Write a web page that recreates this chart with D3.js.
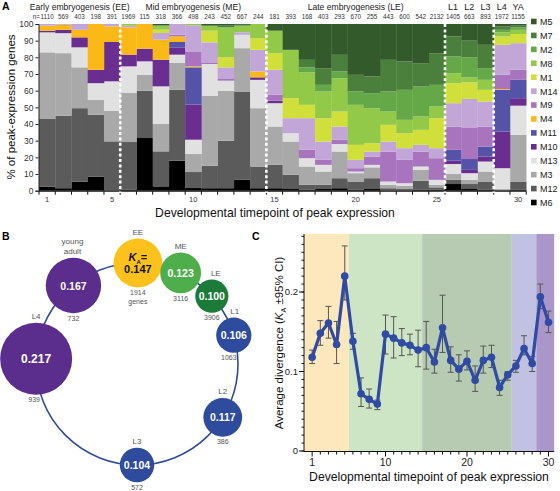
<!DOCTYPE html>
<html><head><meta charset="utf-8">
<script src="https://cdn.jsdelivr.net/npm/d3@7/dist/d3.min.js"></script>
<style>body{margin:0;background:#fff}svg{display:block;font-family:"Liberation Sans",Arial,Helvetica,sans-serif}</style>
</head><body><svg id="c" width="560" height="491"></svg>
<script>
// ---------- Panel A data ----------
const timepoints = d3.range(1, 31);
const geneCounts = [1110,569,403,198,391,1969,115,318,366,498,243,452,667,244,181,393,168,403,293,670,255,443,600,542,2132,1405,663,893,1972,1155];
const stageGroups = [
  {label:"Early embryogenesis (EE)", from:1, to:5},
  {label:"Mid embryogenesis (ME)", from:6, to:14},
  {label:"Late embryogenesis (LE)", from:15, to:25},
  {label:"L1", from:26, to:26},{label:"L2", from:27, to:27},{label:"L3", from:28, to:28},
  {label:"L4", from:29, to:29},{label:"YA", from:30, to:30}];
const separatorsAfter = [5, 14, 25, 28];
const modules = ["M6","M12","M3","M13","M10","M11","M4","M9","M14","M1","M8","M2","M7","M5"];
const moduleColors = ["#000000","#5b5b5b","#a9a9a9","#e1e1e1","#6a2e91","#5453a8","#fbb917","#a774bd","#c3a6d8","#d0df3a","#92c948","#64a847","#4b7f3c","#335a2b"];
const M6  = [2.5,1.5,5.5,8.5,0,0.5,32,2.6,18,1.6,1.5,1.5,6.5,1.5,1.5,1,0.5,1,1.5,0.5,1,0,0,0.5,0.5,4,1,0.5,0,0.5];
const M12 = [40.5,43.5,44,37,29.6,28.7,28,21,42.6,9.6,13.5,28.5,53,13,14,8.5,3,2.5,6,5,6.5,1.5,1,5.5,1.5,2.5,3,5,0.5,5];
const M3  = [40,37.5,24.5,9,18.4,29.4,9.6,16.4,16,10.8,42,30,26,35,23,20,11,8,16,5,6.5,2,2,6.5,1.5,3.5,2.5,6,0.5,28];
const M13 = [12,12,12,10,17.6,16,8,22.6,5,8.6,19,6,8,17,14,5,5,4,4.5,1,1.5,2,1.5,2,3,6,4,6,12.5,17.5];
const M10 = [1,2,6,8,23.6,7,7.6,16,4.4,21,0,0,0,1.5,1.5,0,0,0,0,0,0,0,0,0,0,2,2,3,22,4.5];
const M11 = [0,0,0,0,0,0,0,0,3.2,22.4,0,0,0,0,0,0,0,0,0,0,0,0,0,0,0,6.5,6.5,6,25,11];
const M4  = [3,3,4.5,27.5,9.4,16.4,14.8,12,3.4,0.6,0,0,0,3.5,0,0,0,0,0,0,0,0,0,0,0,0,0,0,0.5,0];
const M9  = [0,0,0,0,0,0,0,0,1,9,1,1,0,0,3.5,0,5,3,2.5,2,5,18,14,9,13,14,19,12,8.5,6];
const M14 = [1,0.5,3.5,0,1.4,1,0,4,6.4,15.6,12,7,1.5,13,15,9,19,11,8,5,3,6,7,4,6,14,17,15,18,16];
const M1  = [0,0,0,0,0,0,0,2,0,0,7,6,0,7,10,12,8,14,9,9,5,10,9,9,18,12,10,7,5,5.5];
const M8  = [0,0,0,0,0,1,0,2.5,0,0.8,3,18,4,8.5,13.5,29,19.5,16,20,24,21,8,8,8,7,6,3,6,2.5,2.5];
const M2  = [0,0,0,0,0,0,0,0,0,0,0,0,0,0,0,0,3,4,4,8,9,12,18,18,13,10,12,7,1.5,1.5];
const M7  = [0,0,0,0,0,0,0,0,0,0,0,1,0.5,0,0,0,4.5,10,10,10,10,19,17,14,19,12,10,14,2,1];
const M5  = [0,0,0,0,0,0,0,0.9,0,0,1,1,0.5,0,4,15.5,21.5,26.5,18.5,30.5,31.5,21.5,22.5,23.5,17.5,7.5,10,12.5,1.5,1];
const moduleValues = {M6,M12,M3,M13,M10,M11,M4,M9,M14,M1,M8,M2,M7,M5};
const yTicksA = d3.range(0, 101, 10);
const xLabelsA = [1,5,10,15,20,25,30];

// ---------- Panel B data ----------
const stages = ["EE","ME","LE","L1","L2","L3","L4","young adult"];
const stageKa = [0.147,0.123,0.100,0.106,0.117,0.104,0.217,0.167];
const stageGenes = [1914,3116,3906,1063,386,572,939,732];
const stageColors = ["#fcc21b","#4fae4c","#1d7b3a","#2e4b9e","#2e4b9e","#2e4b9e","#5b2d8c","#5b2d8c"];
const stageAngles = [0.5,25.6,47.8,73.4,121.9,180,273,321]; // layout: degrees clockwise from top

// ---------- Panel C data ----------
const divMean = [0.118,0.148,0.161,0.134,0.220,0.138,0.072,0.065,0.059,0.147,0.142,0.136,0.133,0.127,0.130,0.112,0.155,0.114,0.103,0.113,0.089,0.114,0.118,0.080,0.096,0.107,0.129,0.110,0.194,0.162];
const ciHigh = [0.127,0.164,0.182,0.163,0.258,0.148,0.092,0.078,0.064,0.171,0.169,0.154,0.147,0.152,0.163,0.128,0.196,0.131,0.121,0.126,0.107,0.132,0.133,0.089,0.100,0.114,0.145,0.119,0.210,0.176];
const ciLow  = [0.110,0.133,0.142,0.110,0.190,0.128,0.056,0.054,0.052,0.122,0.117,0.120,0.121,0.106,0.103,0.098,0.124,0.099,0.088,0.102,0.075,0.098,0.105,0.070,0.089,0.099,0.121,0.100,0.179,0.149];
const bandRanges = [[0,5.5],[5.5,14.5],[14.5,25.5],[25.5,28.5],[28.5,30.7]];
const bandColors = ["#fde7bd","#cde5c5","#b6cbb1","#c1c1e2","#ab96c9"];
const yTicksC = [0, 0.1, 0.2];
const xLabelsC = [1, 10, 20, 30];

const svg = d3.select("#c");
const FONT = '"Liberation Sans",Arial,sans-serif';

// =============== PANEL A ===============
(function(){
  const x = d3.scaleBand().domain(timepoints).range([39, 526.2]).paddingInner(0).paddingOuter(0);
  const y = d3.scaleLinear().domain([0, 100]).range([190.7, 24]);
  const rows = timepoints.map((t, i) => { const r = {t}; modules.forEach(m => r[m] = moduleValues[m][i]); return r; });
  const stack = d3.stack().keys(modules)(rows);
  const g = svg.append("g");
  stack.forEach((layer, li) => {
    g.append("g").attr("fill", moduleColors[li]).selectAll("rect").data(layer).join("rect")
      .attr("x", d => x(d.data.t)).attr("width", x.bandwidth() + 0.3)
      .attr("y", d => y(d[1])).attr("height", d => Math.max(0, y(d[0]) - y(d[1])));
  });
  const ya = g.append("g").attr("transform", "translate(38.5,0)")
    .call(d3.axisLeft(y).tickValues(yTicksA).tickSize(3).tickPadding(2));
  ya.select(".domain").attr("stroke", "#222");
  ya.selectAll("text").attr("font-size", 8.5).attr("fill", "#333").attr("font-family", FONT);
  ya.selectAll(".tick line").attr("stroke", "#222");
  const xa = g.append("g").attr("transform", "translate(0,191.2)");
  xa.append("line").attr("x1", 39).attr("x2", 526.2).attr("stroke", "#111").attr("stroke-width", 1.2);
  xa.selectAll(".tk").data(d3.range(0, 31)).join("line")
    .attr("x1", i => 39 + i * x.bandwidth()).attr("x2", i => 39 + i * x.bandwidth())
    .attr("y1", 0).attr("y2", 3.5).attr("stroke", "#111");
  xa.selectAll(".lb").data(xLabelsA).join("text")
    .attr("x", d => x(d) + x.bandwidth() / 2).attr("y", 10.5).attr("text-anchor", "middle")
    .attr("font-size", 7.5).attr("fill", "#333").text(d => d);
  g.selectAll(".sep").data(separatorsAfter).join("line")
    .attr("x1", d => x(d) + x.bandwidth()).attr("x2", d => x(d) + x.bandwidth())
    .attr("y1", 24).attr("y2", 193).attr("stroke", "#fff").attr("stroke-width", 2.6)
    .attr("stroke-dasharray", "3,2.4");
  stageGroups.forEach(s => {
    const cx = (x(s.from) + x(s.to) + x.bandwidth()) / 2;
    g.append("text").attr("x", cx).attr("y", 9.5).attr("text-anchor", "middle")
      .attr("font-size", s.label.length > 3 ? 8.6 : 9).attr("fill", "#222").text(s.label);
  });
  g.selectAll(".n").data(geneCounts).join("text")
    .attr("x", (d, i) => x(timepoints[i]) + x.bandwidth() / 2).attr("y", 19.2)
    .attr("text-anchor", "middle").attr("font-size", 6.3).attr("fill", "#333").text(d => d);
  g.append("text").attr("x", x(1) + x.bandwidth() / 2 - 7.3).attr("y", 19.2).attr("text-anchor", "end")
    .attr("font-size", 6.3).attr("fill", "#333").text("n=");
  g.append("text").attr("transform", "translate(15,107) rotate(-90)").attr("text-anchor", "middle")
    .attr("font-size", 11.5).attr("fill", "#111").text("% of peak-expression genes");
  g.append("text").attr("x", 275).attr("y", 216.5).attr("text-anchor", "middle")
    .attr("font-size", 12.2).attr("fill", "#111").text("Developmental timepoint of peak expression");
  g.append("text").attr("x", 2).attr("y", 10).attr("font-size", 10.5).attr("font-weight", "bold").text("A");
  const legendOrder = modules.slice().reverse();
  const ly = d3.scalePoint().domain(legendOrder).range([21.5, 202.5]);
  const lg = g.append("g");
  legendOrder.forEach(m => {
    lg.append("rect").attr("x", 531).attr("y", ly(m) - 2.8).attr("width", 5.6).attr("height", 5.6)
      .attr("fill", moduleColors[modules.indexOf(m)]);
    lg.append("text").attr("x", 540).attr("y", ly(m) + 3.4).attr("font-size", 9).attr("fill", "#222").text(m);
  });
})();

// =============== PANEL B ===============
(function(){
  const g = svg.append("g");
  const cx = 137, cy = 364, R = 101;
  const rScale = d3.scaleLinear().domain([0, 0.217]).range([0, 36]);
  g.append("text").attr("x", 2).attr("y", 240).attr("font-size", 10.5).attr("font-weight", "bold").text("B");
  g.append("circle").attr("cx", cx).attr("cy", cy).attr("r", R).attr("fill", "none")
    .attr("stroke", "#2e4b9e").attr("stroke-width", 1.6);
  const nodes = stages.map((s, i) => {
    const a = stageAngles[i] * Math.PI / 180;
    return {s, i, x: cx + R * Math.sin(a), y: cy - R * Math.cos(a), r: rScale(stageKa[i])};
  });
  g.selectAll(".node").data(nodes).join("circle").attr("cx", d => d.x).attr("cy", d => d.y)
    .attr("r", d => d.r).attr("fill", d => stageColors[d.i]);
  const grey = "#555";
  nodes.forEach(d => {
    if (d.i === 0) {
      const t = g.append("text").attr("x", d.x).attr("y", d.y - 2).attr("text-anchor", "middle")
        .attr("font-size", 11).attr("font-weight", "bold").attr("fill", "#111");
      t.append("tspan").attr("font-style", "italic").text("K");
      t.append("tspan").attr("font-size", 6).attr("dy", 2.5).text("A");
      t.append("tspan").attr("dy", -2.5).text("=");
      g.append("text").attr("x", d.x).attr("y", d.y + 10).attr("text-anchor", "middle")
        .attr("font-size", 11).attr("font-weight", "bold").attr("fill", "#111").text(d3.format(".3f")(stageKa[d.i]));
      g.append("text").attr("x", d.x).attr("y", d.y + d.r + 7.5).attr("text-anchor", "middle")
        .attr("font-size", 7).attr("fill", grey).text(stageGenes[d.i]);
      g.append("text").attr("x", d.x).attr("y", d.y + d.r + 17).attr("text-anchor", "middle")
        .attr("font-size", 7).attr("fill", grey).text("genes");
    } else {
      g.append("text").attr("x", d.x).attr("y", d.y + 4).attr("text-anchor", "middle")
        .attr("font-size", d.r > 30 ? 12 : 10.5).attr("font-weight", "bold").attr("fill", "#fff")
        .text(d3.format(".3f")(stageKa[d.i]));
      g.append("text").attr("x", d.x - (d.i === 3 ? 5 : d.i === 6 ? 2 : 0)).attr("y", d.y + d.r + 7.5).attr("text-anchor", "middle")
        .attr("font-size", 7).attr("fill", grey).text(stageGenes[d.i]);
    }
    if (d.s === "young adult") {
      g.append("text").attr("x", d.x - 1).attr("y", d.y - d.r - 14).attr("text-anchor", "middle")
        .attr("font-size", 8).attr("fill", grey).text("young");
      g.append("text").attr("x", d.x - 1).attr("y", d.y - d.r - 4).attr("text-anchor", "middle")
        .attr("font-size", 8).attr("fill", grey).text("adult");
    } else {
      const dx = d.s === "LE" ? 4 : d.s === "L1" ? 1 : 0;
      g.append("text").attr("x", d.x + dx).attr("y", d.y - d.r - 3.5).attr("text-anchor", "middle")
        .attr("font-size", 8).attr("fill", grey).text(d.s);
    }
  });
})();

// =============== PANEL C ===============
(function(){
  const g = svg.append("g");
  const x = d3.scaleLinear().domain([0, 30.7]).range([304, 554.2]);
  const y = d3.scaleLinear().domain([0, 0.273]).range([451, 234]);
  g.append("text").attr("x", 252).attr("y", 240).attr("font-size", 10.5).attr("font-weight", "bold").text("C");
  g.selectAll(".band").data(bandRanges).join("rect")
    .attr("x", d => x(d[0])).attr("width", d => x(d[1]) - x(d[0]))
    .attr("y", y(0.273)).attr("height", y(0) - y(0.273)).attr("fill", (d, i) => bandColors[i]);
  const ya = g.append("g").attr("transform", "translate(304,0)");
  ya.append("line").attr("y1", y(0.273)).attr("y2", y(0)).attr("stroke", "#111");
  ya.selectAll(".mn").data(d3.range(0, 0.2705, 0.01)).join("line")
    .attr("x1", -2.5).attr("x2", 0).attr("y1", d => y(d)).attr("y2", d => y(d)).attr("stroke", "#111");
  ya.selectAll(".mj").data(yTicksC).join("line")
    .attr("x1", -5).attr("x2", 0).attr("y1", d => y(d)).attr("y2", d => y(d)).attr("stroke", "#111");
  ya.selectAll("text").data(yTicksC).join("text").attr("x", -6).attr("y", d => y(d) + 3.3)
    .attr("text-anchor", "end").attr("font-size", 9.5).attr("fill", "#222").text(d => d === 0 ? "0" : d3.format(".1f")(d));
  const xa = g.append("g").attr("transform", "translate(0,451.5)");
  xa.append("line").attr("x1", 304).attr("x2", 554.2).attr("stroke", "#111").attr("stroke-width", 1.2);
  xa.selectAll(".tk").data(d3.range(1, 31)).join("line").attr("x1", d => x(d)).attr("x2", d => x(d))
    .attr("y1", 0).attr("y2", d => xLabelsC.includes(d) ? 5 : 3).attr("stroke", "#111");
  xa.selectAll("text").data(xLabelsC).join("text").attr("x", d => x(d)).attr("y", 14.5)
    .attr("text-anchor", "middle").attr("font-size", 10.5).attr("fill", "#222").text(d => d);
  g.append("text").attr("x", 429).attr("y", 481).attr("text-anchor", "middle")
    .attr("font-size", 12.2).attr("fill", "#111").text("Developmental timepoint of peak expression");
  const yl = g.append("text").attr("transform", "translate(283,343) rotate(-90)").attr("text-anchor", "middle")
    .attr("font-size", 11.5).attr("fill", "#111");
  yl.append("tspan").text("Average divergence (");
  yl.append("tspan").attr("font-style", "italic").text("K");
  yl.append("tspan").attr("font-size", 7).attr("dy", 2.5).text("A");
  yl.append("tspan").attr("dy", -2.5).text(" ±95% CI)");
  const eb = g.append("g").attr("stroke", "#555").attr("stroke-width", 1);
  timepoints.forEach((t, i) => {
    eb.append("line").attr("x1", x(t)).attr("x2", x(t)).attr("y1", y(ciLow[i])).attr("y2", y(ciHigh[i]));
    eb.append("line").attr("x1", x(t) - 3).attr("x2", x(t) + 3).attr("y1", y(ciLow[i])).attr("y2", y(ciLow[i]));
    eb.append("line").attr("x1", x(t) - 3).attr("x2", x(t) + 3).attr("y1", y(ciHigh[i])).attr("y2", y(ciHigh[i]));
  });
  const line = d3.line().x((d, i) => x(timepoints[i])).y(d => y(d));
  g.append("path").datum(divMean).attr("d", line).attr("fill", "none")
    .attr("stroke", "#2f4ba3").attr("stroke-width", 3.2).attr("stroke-linejoin", "round");
  g.selectAll(".pt").data(divMean).join("circle").attr("cx", (d, i) => x(timepoints[i])).attr("cy", d => y(d))
    .attr("r", 3.8).attr("fill", "#2f4ba3");
})();
</script></body></html>
